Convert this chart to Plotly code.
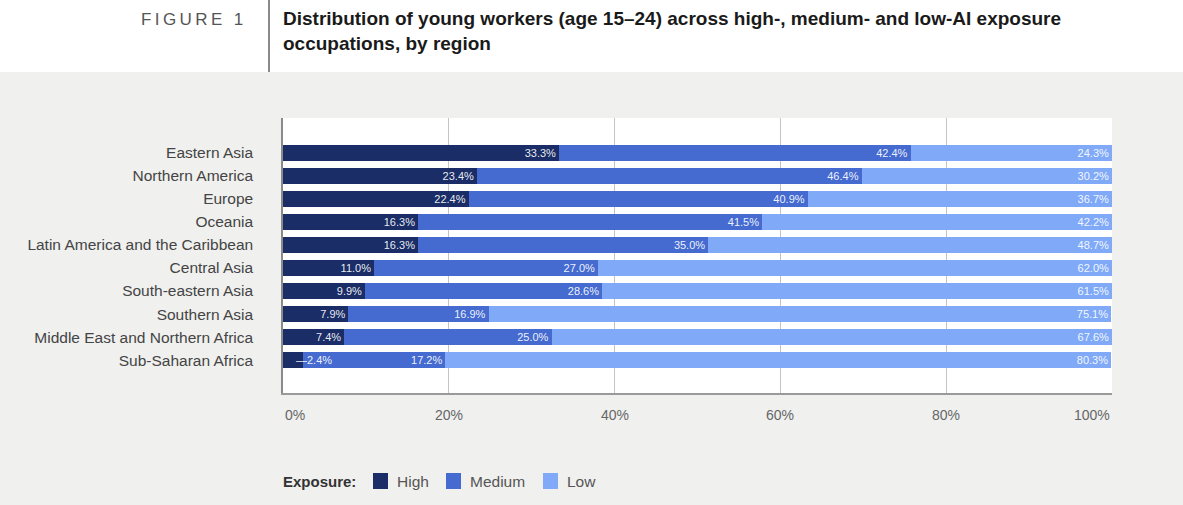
import plotly.graph_objects as go

regions = ["Eastern Asia", "Northern America", "Europe", "Oceania",
           "Latin America and the Caribbean", "Central Asia", "South-eastern Asia",
           "Southern Asia", "Middle East and Northern Africa", "Sub-Saharan Africa"]
high = [33.3, 23.4, 22.4, 16.3, 16.3, 11.0, 9.9, 7.9, 7.4, 2.4]
medium = [42.4, 46.4, 40.9, 41.5, 35.0, 27.0, 28.6, 16.9, 25.0, 17.2]
low = [24.3, 30.2, 36.7, 42.2, 48.7, 62.0, 61.5, 75.1, 67.6, 80.3]
series_names = ["High", "Medium", "Low"]
x_ticks = [0, 20, 40, 60, 80, 100]
x_tick_labels = ["0%", "20%", "40%", "60%", "80%", "100%"]

colors = ["#1a2d66", "#456bd0", "#80aaf7"]
FONT = "Liberation Sans, Arial, Helvetica, sans-serif"
TXT = "rgba(255,255,255,0.92)"

W, H = 1183, 505
ML, MR, MT, MB = 283, 71, 118, 112
PW, PH = W - ML - MR, H - MT - MB


def px_x(p):
    return (p - ML) / PW


def px_y(p):
    return (H - MB - p) / PH


def label(v, small=5):
    return f"{v:.1f}%" if v >= small else ""


fig = go.Figure()
for name, vals, col in zip(series_names, [high, medium, low], colors):
    fig.add_trace(go.Bar(
        y=regions, x=vals, orientation="h", name=name,
        marker=dict(color=col, line=dict(width=0)),
        text=[label(v) for v in vals], textposition="inside",
        insidetextanchor="end", textangle=0,
        insidetextfont=dict(family=FONT, size=11, color=TXT),
        hoverinfo="skip", showlegend=False,
    ))

# small value label with leader for the tiny bar
for r, v in zip(regions, high):
    if v < 5:
        fig.add_annotation(x=v, y=r, xref="x", yref="y", text=f"\u2014{v:.1f}%",
                           showarrow=False, xanchor="left", yanchor="middle", xshift=-9,
                           font=dict(family=FONT, size=11, color=TXT))

# x tick labels
for i, (tv, tl) in enumerate(zip(x_ticks, x_tick_labels)):
    anchor = "left" if i == 0 else ("right" if i == len(x_ticks) - 1 else "center")
    fig.add_annotation(x=tv, y=0, xref="x", yref="paper", text=tl, showarrow=False,
                       xanchor=anchor, yanchor="top", yshift=-12,
                       font=dict(family=FONT, size=14, color="#666666"))

# header: white band + separator + texts
fig.add_shape(type="rect", xref="paper", yref="paper", x0=-0.5, x1=1.5,
              y0=px_y(72), y1=px_y(-5), fillcolor="white", line=dict(width=0), layer="below")
fig.add_shape(type="line", xref="paper", yref="paper", x0=px_x(269), x1=px_x(269),
              y0=px_y(72), y1=px_y(0), line=dict(color="#8a8a8a", width=2))
fig.add_annotation(x=px_x(245), y=px_y(8), xref="paper", yref="paper",
                   text="F\u2009I\u2009G\u2009U\u2009R\u2009E\u2009 \u20091", showarrow=False,
                   xanchor="right", yanchor="top",
                   font=dict(family=FONT, size=17, color="#555555"))
fig.add_annotation(x=px_x(281), y=px_y(6), xref="paper", yref="paper", align="left",
                   text="<b>Distribution of young workers (age 15\u201324) across high-, medium- and low-AI exposure<br>occupations, by region</b>",
                   showarrow=False, xanchor="left", yanchor="top",
                   font=dict(family=FONT, size=19, color="#1a1a1a"))

# legend (drawn manually)
fig.add_annotation(x=px_x(281), y=px_y(481), xref="paper", yref="paper",
                   text="<b>Exposure:</b>", showarrow=False, xanchor="left", yanchor="middle",
                   font=dict(family=FONT, size=15, color="#333333"))
sq_x = [373, 446, 543]
for name, col, sx in zip(series_names, colors, sq_x):
    fig.add_shape(type="rect", xref="paper", yref="paper",
                  x0=px_x(sx), x1=px_x(sx + 15), y0=px_y(473), y1=px_y(489),
                  fillcolor=col, line=dict(width=0))
    fig.add_annotation(x=px_x(sx + 22), y=px_y(481), xref="paper", yref="paper",
                       text=name, showarrow=False, xanchor="left", yanchor="middle",
                       font=dict(family=FONT, size=15.5, color="#555555"))

fig.update_layout(
    width=W, height=H, autosize=False,
    margin=dict(l=ML, r=MR, t=MT, b=MB, pad=0),
    paper_bgcolor="#f0f0ef", plot_bgcolor="white",
    barmode="stack", bargap=0.3,
    uniformtext=dict(minsize=11, mode="show"),
    font=dict(family=FONT, color="#444444"),
    showlegend=False,
    xaxis=dict(range=[0, 100], tickvals=x_ticks, showticklabels=False, ticks="",
               showgrid=True, gridcolor="#c4c4c4", gridwidth=1, zeroline=False,
               showline=True, linecolor="#9a9a9a", linewidth=1.5, fixedrange=True),
    yaxis=dict(type="category", range=[len(regions) - 1 + 1.43, -1.52],
               showgrid=False, zeroline=False, showline=True, linecolor="#8a8a8a",
               linewidth=1.5, ticks="", ticklabelstandoff=25,
               tickfont=dict(family=FONT, size=15.5, color="#444444"), fixedrange=True),
)

fig.write_html("out.html")
